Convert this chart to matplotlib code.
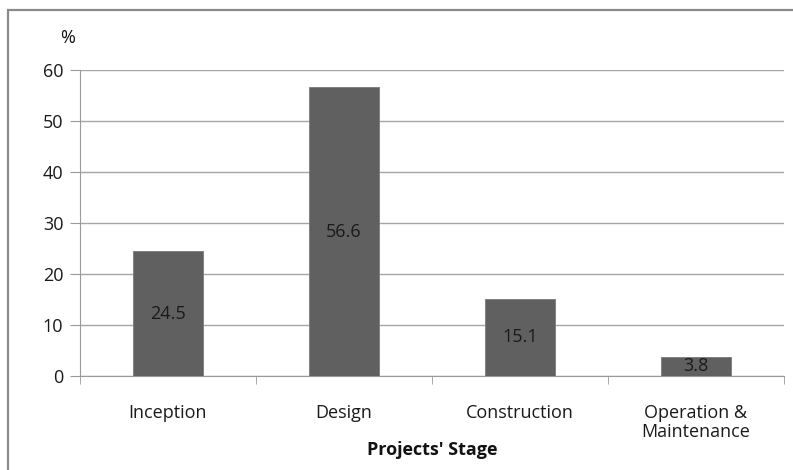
import matplotlib
matplotlib.use("Agg")
import matplotlib.pyplot as plt
from matplotlib.patches import Rectangle

# Share of items by project stage
stages = ["Inception", "Design", "Construction", "Operation &\nMaintenance"]
percent = [24.5, 56.6, 15.1, 3.8]
y_ticks = [0, 10, 20, 30, 40, 50, 60]

plt.rcParams["font.family"] = ["Open Sans", "DejaVu Sans"]

W, H = 793, 470
fig = plt.figure(figsize=(W / 100, H / 100), dpi=100)

# outer chart frame (runs off the right and bottom edges)
fig.patches.append(Rectangle((8 / W, -0.1), 1.2, 1 - 10 / H + 0.1,
                             transform=fig.transFigure, fill=False,
                             edgecolor="#8a8a8a", linewidth=1.6))

ax = fig.add_axes([80 / W, 1 - 376 / H, (784 - 80) / W, (376 - 70) / H])

x = range(len(stages))
bars = ax.bar(x, percent, width=0.4, color="#606060", edgecolor="#7a7a7a",
              linewidth=0.6, zorder=3)

for b, v in zip(bars, percent):
    ax.text(b.get_x() + b.get_width() / 2, v / 2, f"{v:.1f}",
            ha="center", va="center", fontsize=13, color="#1a1a1a", zorder=4)

ax.set_xlim(-0.5, len(stages) - 0.5)
ax.set_ylim(0, 60)
ax.set_yticks(y_ticks)
ax.yaxis.grid(True, color="#a6a6a6", linewidth=1.0, zorder=0)
ax.set_axisbelow(True)

for s in ["top", "right"]:
    ax.spines[s].set_visible(False)
ax.spines["left"].set_color("#9a9a9a")
ax.spines["bottom"].set_color("#9a9a9a")

ax.tick_params(axis="y", length=7, color="#9a9a9a", labelsize=13,
               labelcolor="#1a1a1a", pad=5)
ax.set_xticks([i - 0.5 for i in range(len(stages) + 1)], minor=True)
ax.set_xticks(list(x))
ax.set_xticklabels(stages, fontsize=13, color="#1a1a1a", linespacing=1.1)
ax.tick_params(axis="x", which="major", length=0, pad=20)
ax.tick_params(axis="x", which="minor", length=6, color="#9a9a9a")
for lbl in ax.get_xticklabels():
    lbl.set_verticalalignment("top")

ax.set_xlabel("Projects' Stage", fontsize=13, fontweight="bold",
              color="#111111", labelpad=0)
fig.text(68 / W, 1 - 38 / H, "%", fontsize=13, ha="center", va="center",
         color="#111111")

fig.savefig("out.png", dpi=100)
